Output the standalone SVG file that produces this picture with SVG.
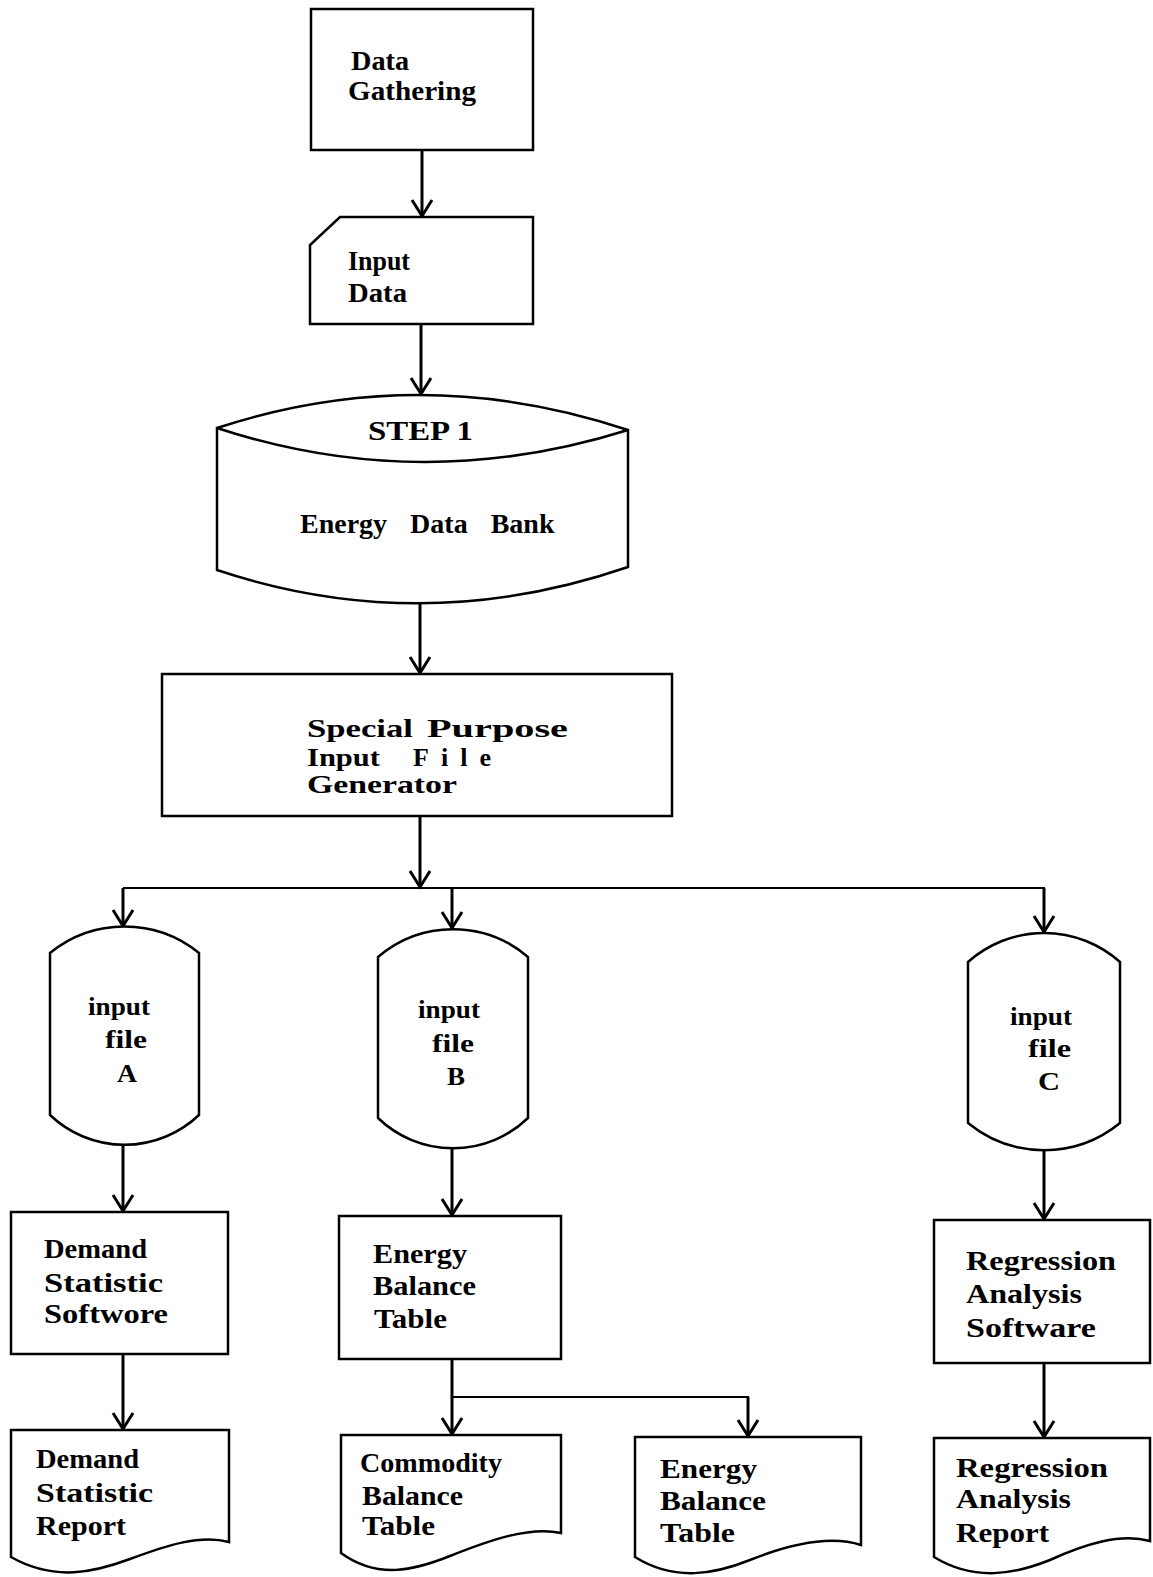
<svg xmlns="http://www.w3.org/2000/svg" width="1153" height="1577" viewBox="0 0 1153 1577">
<style>
.s{fill:#fff;stroke:#000;stroke-width:2.5;stroke-linejoin:miter}
.t{font-family:"Liberation Serif","Times New Roman",serif;font-weight:bold;font-size:28px;fill:#000}
.f{font-size:25px}
.g{font-size:26px}
.c{fill:none;stroke:#000;stroke-width:3}
.h{fill:none;stroke:#000;stroke-width:2}
</style>
<defs>
<marker id="arr" markerUnits="userSpaceOnUse" markerWidth="40" markerHeight="40" refX="0" refY="0" orient="auto" overflow="visible">
<path d="M -16 -10 L 0 0 L -16 10" fill="none" stroke="#000" stroke-width="3"/>
</marker>
</defs>
<rect width="1153" height="1577" fill="#fff"/>

<g id="connectors">
<line class="c" x1="422" y1="150" x2="422" y2="216" marker-end="url(#arr)"/>
<line class="c" x1="421" y1="324" x2="421" y2="394" marker-end="url(#arr)"/>
<line class="c" x1="420" y1="604" x2="420" y2="673" marker-end="url(#arr)"/>
<line class="c" x1="420" y1="816" x2="420" y2="887" marker-end="url(#arr)"/>
<polyline class="h" points="123,888 1045,888"/>
<line class="c" x1="123" y1="888" x2="123" y2="926" marker-end="url(#arr)"/>
<line class="c" x1="452" y1="888" x2="452" y2="928" marker-end="url(#arr)"/>
<line class="c" x1="1044" y1="888" x2="1044" y2="932" marker-end="url(#arr)"/>
<line class="c" x1="123" y1="1145" x2="123" y2="1211" marker-end="url(#arr)"/>
<line class="c" x1="452" y1="1148" x2="452" y2="1215" marker-end="url(#arr)"/>
<line class="c" x1="1044" y1="1150" x2="1044" y2="1219" marker-end="url(#arr)"/>
<line class="c" x1="123" y1="1354" x2="123" y2="1429" marker-end="url(#arr)"/>
<line class="c" x1="452" y1="1359" x2="452" y2="1434" marker-end="url(#arr)"/>
<line class="c" x1="1044" y1="1363" x2="1044" y2="1437" marker-end="url(#arr)"/>
<polyline class="h" points="452,1397 748,1397 748,1400"/>
<line class="c" x1="748" y1="1397" x2="748" y2="1436" marker-end="url(#arr)"/>
</g>

<g id="data-gathering">
<rect class="s" x="311" y="9" width="222" height="141"/>
<text class="t" x="351" y="70" textLength="58" lengthAdjust="spacingAndGlyphs">Data</text>
<text class="t" x="348" y="100" textLength="128" lengthAdjust="spacingAndGlyphs">Gathering</text>
</g>

<g id="input-data">
<path class="s" d="M 340 217 L 533 217 L 533 324 L 310 324 L 310 245 Z"/>
<text class="t" x="348" y="270" textLength="62" lengthAdjust="spacingAndGlyphs">Input</text>
<text class="t" x="348" y="302" textLength="59" lengthAdjust="spacingAndGlyphs">Data</text>
</g>

<g id="energy-data-bank">
<path class="s" d="M 217 428 Q 421 361 628 430 L 628 567 Q 421 638 217 570 Z"/>
<path class="s" fill="none" d="M 217 428 Q 421 495 628 430"/>
<text class="t" x="368" y="440" font-size="33" textLength="105" lengthAdjust="spacingAndGlyphs">STEP 1</text>
<text class="t" x="300" y="533" font-size="27" word-spacing="16">Energy Data Bank</text>
</g>

<g id="special-purpose">
<rect class="s" x="162" y="674" width="510" height="142"/>
<text class="t g" x="307" y="737" textLength="106" lengthAdjust="spacingAndGlyphs">Special</text>
<text class="t g" x="427" y="737" textLength="141" lengthAdjust="spacingAndGlyphs">Purpose</text>
<text class="t g" x="307" y="766" textLength="73" lengthAdjust="spacingAndGlyphs">Input</text>
<text class="t g" x="413" y="766" textLength="78" lengthAdjust="spacing">File</text>
<text class="t g" x="307" y="793" textLength="150" lengthAdjust="spacingAndGlyphs">Generator</text>
</g>

<g id="input-file-a">
<path class="s" d="M 50 953 A 118 118 0 0 1 199 953 L 199 1115 A 108 108 0 0 1 50 1115 Z"/>
<text class="t f" x="88" y="1015" textLength="62" lengthAdjust="spacingAndGlyphs">input</text>
<text class="t f" x="105" y="1048" textLength="42" lengthAdjust="spacingAndGlyphs">file</text>
<text class="t f" x="117" y="1082" textLength="20" lengthAdjust="spacingAndGlyphs">A</text>
</g>

<g id="input-file-b">
<path class="s" d="M 378 957 A 115 115 0 0 1 528 957 L 528 1118 A 108 108 0 0 1 378 1118 Z"/>
<text class="t f" x="418" y="1018" textLength="62" lengthAdjust="spacingAndGlyphs">input</text>
<text class="t f" x="432" y="1052" textLength="42" lengthAdjust="spacingAndGlyphs">file</text>
<text class="t f" x="447" y="1085" textLength="18" lengthAdjust="spacingAndGlyphs">B</text>
</g>

<g id="input-file-c">
<path class="s" d="M 968 962 A 114 114 0 0 1 1120 962 L 1120 1123 A 120 120 0 0 1 968 1123 Z"/>
<text class="t f" x="1010" y="1025" textLength="62" lengthAdjust="spacingAndGlyphs">input</text>
<text class="t f" x="1028" y="1057" textLength="43" lengthAdjust="spacingAndGlyphs">file</text>
<text class="t f" x="1038" y="1090" textLength="22" lengthAdjust="spacingAndGlyphs">C</text>
</g>

<g id="demand-statistic-software">
<rect class="s" x="11" y="1212" width="217" height="142"/>
<text class="t" x="44" y="1258" textLength="103" lengthAdjust="spacingAndGlyphs">Demand</text>
<text class="t" x="44" y="1292" textLength="119" lengthAdjust="spacingAndGlyphs">Statistic</text>
<text class="t" x="44" y="1323" textLength="124" lengthAdjust="spacingAndGlyphs">Softwore</text>
</g>

<g id="energy-balance-table-process">
<rect class="s" x="339" y="1216" width="222" height="143"/>
<text class="t" x="373" y="1263" textLength="94" lengthAdjust="spacingAndGlyphs">Energy</text>
<text class="t" x="373" y="1295" textLength="103" lengthAdjust="spacingAndGlyphs">Balance</text>
<text class="t" x="374" y="1328" textLength="73" lengthAdjust="spacingAndGlyphs">Table</text>
</g>

<g id="regression-analysis-software">
<rect class="s" x="934" y="1220" width="216" height="143"/>
<text class="t" x="966" y="1270" textLength="150" lengthAdjust="spacingAndGlyphs">Regression</text>
<text class="t" x="966" y="1303" textLength="116" lengthAdjust="spacingAndGlyphs">Analysis</text>
<text class="t" x="966" y="1337" textLength="130" lengthAdjust="spacingAndGlyphs">Software</text>
</g>

<g id="demand-statistic-report">
<path class="s" d="M 11 1430 L 229 1430 L 229 1542 C 200 1534, 165 1546, 130 1559 C 95 1572, 55 1582, 11 1557 Z"/>
<text class="t" x="36" y="1468" textLength="103" lengthAdjust="spacingAndGlyphs">Demand</text>
<text class="t" x="36" y="1502" textLength="117" lengthAdjust="spacingAndGlyphs">Statistic</text>
<text class="t" x="36" y="1535" textLength="90" lengthAdjust="spacingAndGlyphs">Report</text>
</g>

<g id="commodity-balance-table">
<path class="s" d="M 341 1435 L 561 1435 L 561 1533 C 530 1526, 490 1540, 450 1556 C 415 1570, 378 1580, 341 1553 Z"/>
<text class="t" x="360" y="1472" textLength="142" lengthAdjust="spacingAndGlyphs">Commodity</text>
<text class="t" x="362" y="1505" textLength="101" lengthAdjust="spacingAndGlyphs">Balance</text>
<text class="t" x="362" y="1535" textLength="73" lengthAdjust="spacingAndGlyphs">Table</text>
</g>

<g id="energy-balance-table-report">
<path class="s" d="M 635 1437 L 861 1437 L 861 1545 C 830 1535, 790 1544, 750 1560 C 715 1574, 675 1582, 635 1557 Z"/>
<text class="t" x="660" y="1478" textLength="97" lengthAdjust="spacingAndGlyphs">Energy</text>
<text class="t" x="660" y="1510" textLength="106" lengthAdjust="spacingAndGlyphs">Balance</text>
<text class="t" x="660" y="1542" textLength="75" lengthAdjust="spacingAndGlyphs">Table</text>
</g>

<g id="regression-analysis-report">
<path class="s" d="M 934 1438 L 1150 1438 L 1150 1541 C 1120 1533, 1085 1544, 1050 1560 C 1015 1574, 975 1582, 934 1557 Z"/>
<text class="t" x="956" y="1477" textLength="152" lengthAdjust="spacingAndGlyphs">Regression</text>
<text class="t" x="956" y="1508" textLength="115" lengthAdjust="spacingAndGlyphs">Analysis</text>
<text class="t" x="956" y="1542" textLength="93" lengthAdjust="spacingAndGlyphs">Report</text>
</g>
</svg>
